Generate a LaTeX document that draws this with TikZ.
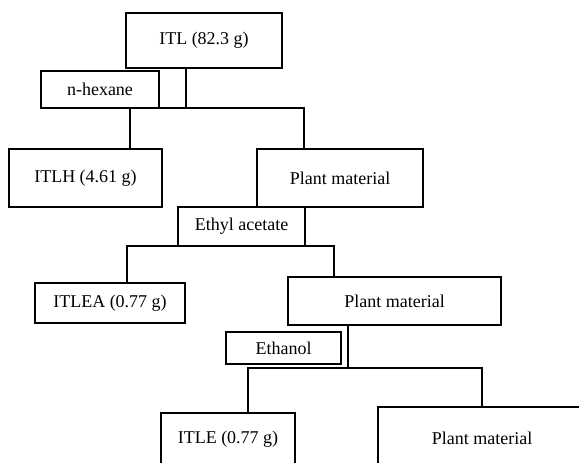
\documentclass[tikz,border=0pt]{standalone}
\usepackage{fontspec}
\setmainfont{Liberation Serif}
\begin{document}
\begin{tikzpicture}[x=0.5pt,y=-0.5pt,
  box/.style={draw, line width=0.65pt, inner sep=0pt, anchor=center, font=\fontsize{9}{11}\selectfont},
  conn/.style={line width=0.65pt}]
\useasboundingbox (0,0) rectangle (579,462);
\fill[white] (0,0) rectangle (579,462);
\clip (0,0) rectangle (579,462);
% boxes
\node[box, minimum width=78pt, minimum height=27.5pt] (itl) at (204,40.5) {ITL (82.3 g)};
\node[box, minimum width=59pt, minimum height=18.5pt] (hex) at (100,89.5) {n-hexane};
\node[box, minimum width=76.5pt, minimum height=29pt] (itlh) at (85.5,178) {ITLH (4.61 g)};
\node[box, minimum width=83pt, minimum height=29pt] (pm1) at (340,178) {Plant material};
\node[box, minimum width=63.5pt, minimum height=19.5pt] (ea) at (241.5,226.5) {Ethyl acetate};
\node[box, minimum width=75pt, minimum height=20pt] (itlea) at (110,303) {ITLEA (0.77 g)};
\node[box, minimum width=106.5pt, minimum height=24pt] (pm2) at (394.5,301) {Plant material};
\node[box, minimum width=57.5pt, minimum height=16pt] (eth) at (283.5,348) {Ethanol};
\node[box, minimum width=67pt, minimum height=26pt] (itle) at (228,439) {ITLE (0.77 g)};
\node[box, minimum width=104pt, minimum height=31pt] (pm3) at (482,438) {Plant material};
% branch points
\coordinate (j1) at (186,108);
\coordinate (a1) at (130,108);
\coordinate (b1) at (304,108);
\coordinate (a2) at (127,246);
\coordinate (b2) at (334,246);
\coordinate (j3) at (348,368);
\coordinate (a3) at (248,368);
\coordinate (b3) at (482,368);
% connectors
\draw[conn] (itl.south -| j1) -- (j1);
\draw[conn] (itlh.north -| a1) -- (a1) -- (b1) -- (b1 |- pm1.north);
\draw[conn] (itlea.north -| a2) -- (a2) -- (b2) -- (b2 |- pm2.north);
\draw[conn] (pm2.south -| j3) -- (j3);
\draw[conn] (itle.north -| a3) -- (a3) -- (b3) -- (b3 |- pm3.north);
\end{tikzpicture}
\end{document}
